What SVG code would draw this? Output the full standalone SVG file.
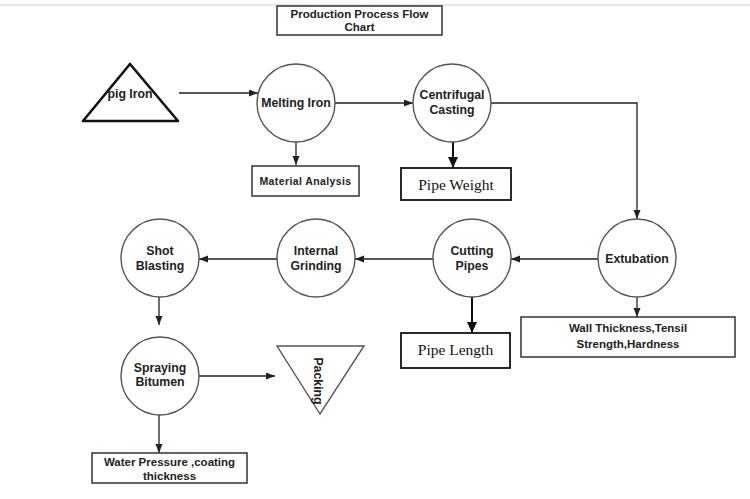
<svg xmlns="http://www.w3.org/2000/svg" width="750" height="499" viewBox="0 0 750 499">
<style>
.bg{fill:#fff}
.circ{fill:#fff;stroke:#555;stroke-width:1.4}
.box{fill:#fff;stroke:#333;stroke-width:1.5}
.boxk{fill:#fff;stroke:#111;stroke-width:1.8}
.t{font-family:"Liberation Sans",Arial,sans-serif;font-weight:bold;font-size:12.3px;fill:#222;text-anchor:middle}
.ts{font-family:"Liberation Sans",Arial,sans-serif;font-weight:bold;font-size:11.5px;fill:#222;text-anchor:middle}
.tser{font-family:"Liberation Serif","Times New Roman",serif;font-size:15.5px;fill:#111;text-anchor:middle}
.c{fill:none;stroke:#222;stroke-width:1.3}
.ck{fill:none;stroke:#111;stroke-width:2}
</style>
<defs>
<marker id="ah" markerUnits="userSpaceOnUse" markerWidth="10" markerHeight="8" refX="9" refY="3.5" orient="auto">
<path d="M0,0 L9,3.5 L0,7 z" fill="#222"/>
</marker>
<marker id="ahk" markerUnits="userSpaceOnUse" markerWidth="12" markerHeight="12" refX="11" refY="5" orient="auto">
<path d="M0,0 L11,5 L0,10 z" fill="#111"/>
</marker>
</defs>
<rect class="bg" x="0" y="0" width="750" height="499"/>
<rect x="0" y="4" width="750" height="2" fill="#e6e6e6"/>

<g id="title">
<rect class="box" x="277" y="6" width="165" height="29"/>
<text class="ts" x="359.5" y="18">Production Process Flow</text>
<text class="ts" x="359.5" y="31">Chart</text>
</g>

<g id="connectors">
<line class="c" x1="179" y1="93" x2="258" y2="93" marker-end="url(#ah)"/>
<line class="c" x1="335" y1="103" x2="413" y2="103" marker-end="url(#ah)"/>
<line class="c" x1="296" y1="142" x2="296" y2="165" marker-end="url(#ah)"/>
<line class="ck" x1="453" y1="142" x2="453" y2="168" marker-end="url(#ahk)"/>
<path class="c" d="M491,103 H637 V219" marker-end="url(#ah)"/>
<line class="c" x1="637" y1="297" x2="637" y2="317" marker-end="url(#ah)"/>
<line class="c" x1="598" y1="259" x2="511" y2="259" marker-end="url(#ah)"/>
<line class="ck" x1="472" y1="297" x2="472" y2="333" marker-end="url(#ahk)"/>
<line class="c" x1="433" y1="259" x2="355" y2="259" marker-end="url(#ah)"/>
<line class="c" x1="277" y1="259" x2="199" y2="259" marker-end="url(#ah)"/>
<line class="c" x1="159" y1="297" x2="159" y2="325" marker-end="url(#ah)"/>
<line class="c" x1="199" y1="376" x2="275" y2="376" marker-end="url(#ah)"/>
<line class="c" x1="159" y1="415" x2="159" y2="453" marker-end="url(#ah)"/>
</g>

<g id="pig-iron">
<path d="M130,64 L178,121 L83,121 Z" fill="#fff" stroke="#111" stroke-width="2.6" stroke-linejoin="round"/>
<text class="t" x="130" y="98">pig Iron</text>
</g>

<g id="melting-iron">
<circle class="circ" cx="296" cy="103" r="39"/>
<text class="t" x="296" y="107">Melting Iron</text>
</g>

<g id="centrifugal-casting">
<circle class="circ" cx="452" cy="103" r="39"/>
<text class="t" x="452" y="99">Centrifugal</text>
<text class="t" x="452" y="114">Casting</text>
</g>

<g id="material-analysis">
<rect class="box" x="252" y="166" width="107" height="30"/>
<text class="ts" x="305.5" y="185" style="font-size:10.5px;letter-spacing:0.4px">Material Analysis</text>
</g>

<g id="pipe-weight">
<rect class="boxk" x="401" y="168" width="110" height="32"/>
<text class="tser" x="456" y="190">Pipe Weight</text>
</g>

<g id="extubation">
<circle class="circ" cx="637" cy="258" r="39"/>
<text class="t" x="637" y="263">Extubation</text>
</g>

<g id="wall-thickness">
<rect class="box" x="521" y="317" width="214" height="40"/>
<text class="ts" x="628" y="332">Wall Thickness,Tensil</text>
<text class="ts" x="628" y="348">Strength,Hardness</text>
</g>

<g id="cutting-pipes">
<circle class="circ" cx="472" cy="258" r="39"/>
<text class="t" x="472" y="255">Cutting</text>
<text class="t" x="472" y="270">Pipes</text>
</g>

<g id="pipe-length">
<rect class="boxk" x="401" y="333" width="109" height="35"/>
<text class="tser" x="455.5" y="355">Pipe Length</text>
</g>

<g id="internal-grinding">
<circle class="circ" cx="316" cy="258" r="39"/>
<text class="t" x="316" y="255">Internal</text>
<text class="t" x="316" y="270">Grinding</text>
</g>

<g id="shot-blasting">
<circle class="circ" cx="160" cy="258" r="39"/>
<text class="t" x="160" y="255">Shot</text>
<text class="t" x="160" y="270">Blasting</text>
</g>

<g id="spraying-bitumen">
<circle class="circ" cx="160" cy="376" r="39"/>
<text class="t" x="160" y="372">Spraying</text>
<text class="t" x="160" y="386">Bitumen</text>
</g>

<g id="packing">
<path d="M277,346 L364,346 L320,414 Z" fill="#fff" stroke="#555" stroke-width="1.4"/>
<text class="t" x="0" y="0" transform="translate(314,381) rotate(90)">Packing</text>
</g>

<g id="water-pressure">
<rect class="box" x="92" y="453" width="155" height="30"/>
<text class="ts" x="169.5" y="466">Water Pressure ,coating</text>
<text class="ts" x="169.5" y="480">thickness</text>
</g>
</svg>
